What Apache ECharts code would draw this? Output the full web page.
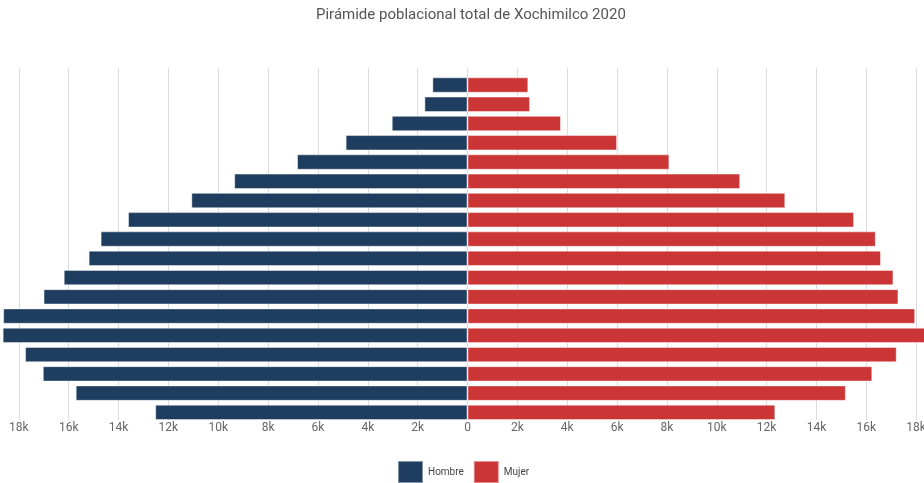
<!DOCTYPE html>
<html>
<head>
<meta charset="utf-8">
<script src="https://cdn.jsdelivr.net/npm/echarts@6/dist/echarts.min.js"></script>
<style>
html,body{margin:0;padding:0;background:#fff;}
#chart{width:924px;height:483px;}
</style>
</head>
<body>
<div id="chart"></div>
<script>
// Age groups, bottom to top
const ageGroups = ['0-4','5-9','10-14','15-19','20-24','25-29','30-34','35-39','40-44','45-49','50-54','55-59','60-64','65-69','70-74','75-79','80-84','85+'];
const hombre = [12530, 15720, 17040, 17750, 18650, 18630, 17010, 16200, 15200, 14720, 13620, 11080, 9360, 6840, 4890, 3040, 1730, 1410];
const mujer  = [12350, 15180, 16240, 17220, 18700, 17960, 17290, 17090, 16590, 16380, 15510, 12750, 10940, 8100, 6000, 3750, 2510, 2440];
const seriesNames = ['Hombre', 'Mujer'];
const titleText = 'Pirámide poblacional total de Xochimilco 2020';

const chart = echarts.init(document.getElementById('chart'));
const fmt = v => v === 0 ? '0' : (Math.abs(v) / 1000) + 'k';
const font = 'Roboto, "Noto Sans", sans-serif';

chart.setOption({
  animation: false,
  backgroundColor: '#fff',
  title: {
    text: titleText,
    left: 316,
    top: 8,
    padding: 0,
    textStyle: { fontFamily: font, fontSize: 15, fontWeight: 'normal', color: '#555' }
  },
  legend: {
    data: seriesNames,
    left: 397,
    top: 460,
    padding: 0,
    itemWidth: 25,
    itemHeight: 22,
    itemGap: 9,
    icon: 'rect',
    textStyle: { fontFamily: font, fontSize: 10, color: '#444' }
  },
  grid: [
    { left: -31, right: -42, top: 75.4, bottom: 61, containLabel: false, outerBoundsMode: 'none' },
    { left: -31, right: -42, top: 68, bottom: 63, containLabel: false, outerBoundsMode: 'none' }
  ],
  xAxis: [
    {
      gridIndex: 0, type: 'value', min: -20000, max: 20000, interval: 2000,
      axisLine: { show: false }, axisTick: { show: false }, splitLine: { show: false },
      axisLabel: { formatter: fmt, margin: 0, fontFamily: font, fontSize: 12, color: '#666' }
    },
    {
      gridIndex: 1, type: 'value', min: -20000, max: 20000, interval: 2000,
      axisLine: { show: false }, axisTick: { show: false }, axisLabel: { show: false },
      splitLine: { show: true, lineStyle: { color: '#dcdcdc', width: 1 } }
    }
  ],
  yAxis: [
    { gridIndex: 0, type: 'category', data: ageGroups, axisLine: { show: false }, axisTick: { show: false }, axisLabel: { show: false } },
    { gridIndex: 1, type: 'value', show: false }
  ],
  series: [
    {
      name: seriesNames[0], type: 'bar', stack: 'total', barWidth: '80%',
      xAxisIndex: 0, yAxisIndex: 0,
      data: hombre.map(v => -v),
      itemStyle: { color: '#1f3d5f', borderColor: 'rgba(255,255,255,0.45)', borderWidth: 1 }
    },
    {
      name: seriesNames[1], type: 'bar', stack: 'total', barWidth: '80%',
      xAxisIndex: 0, yAxisIndex: 0,
      data: mujer,
      itemStyle: { color: '#cb3535', borderColor: 'rgba(255,255,255,0.45)', borderWidth: 1 }
    }
  ]
});
</script>
</body>
</html>
